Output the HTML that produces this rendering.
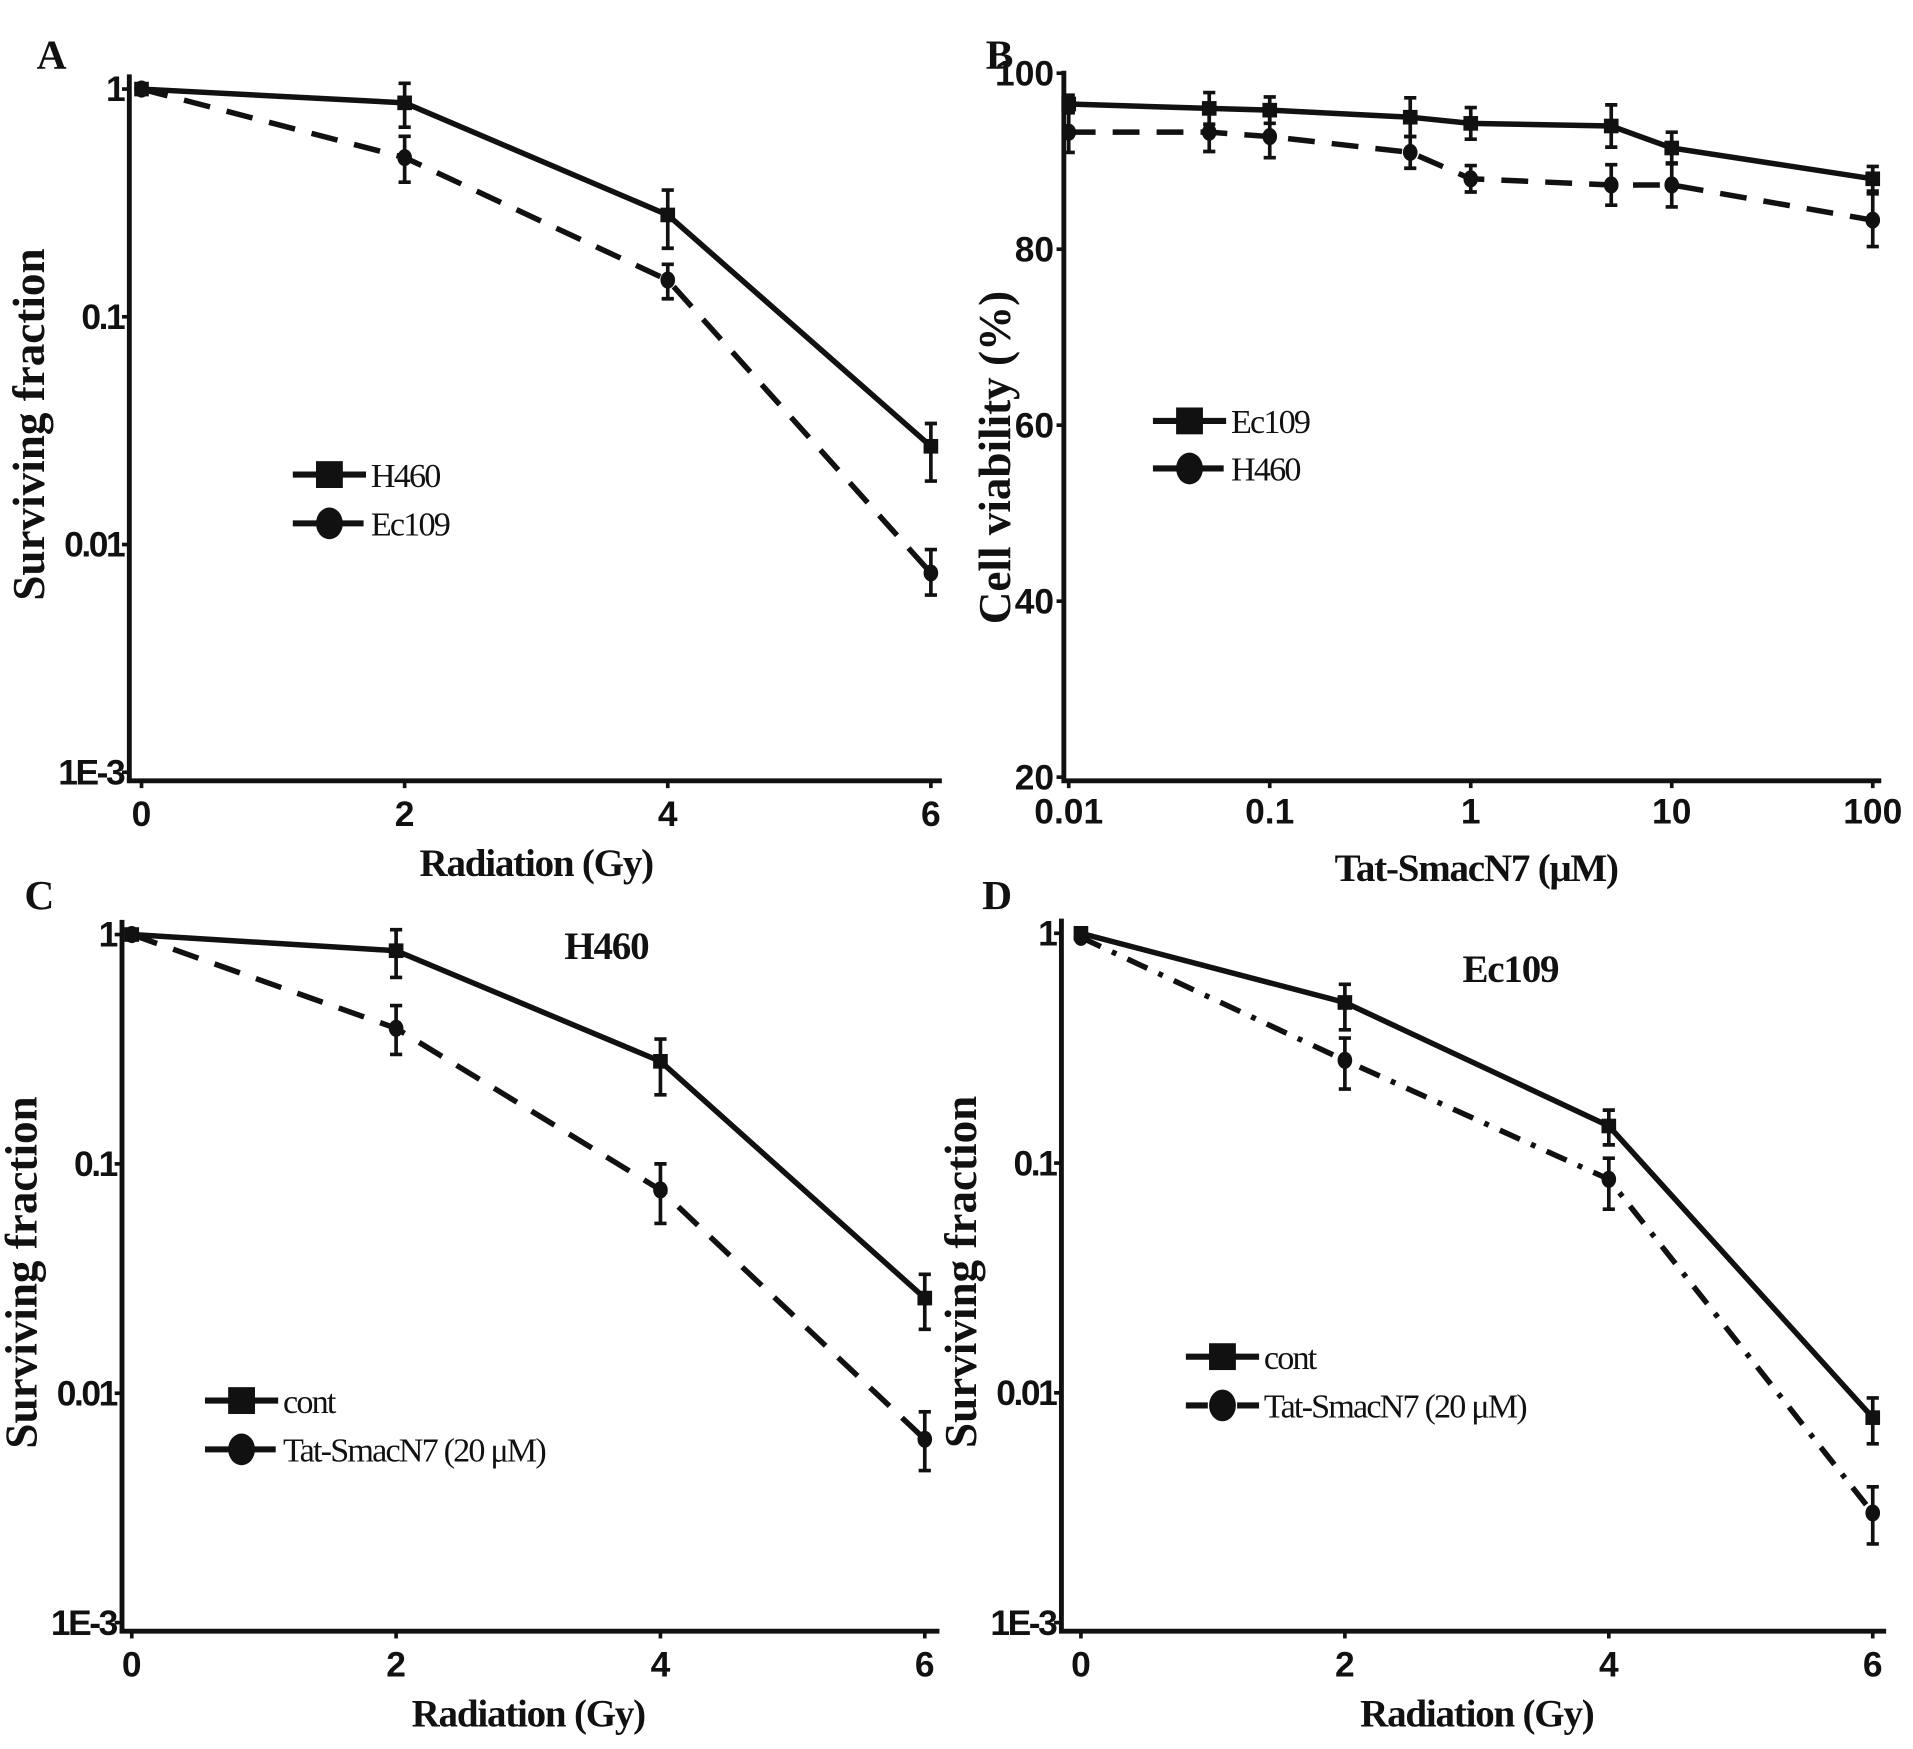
<!DOCTYPE html>
<html><head><meta charset="utf-8"><style>
html,body{margin:0;padding:0;background:#fff;}
svg{display:block;}
.tk{font-family:"Liberation Sans",sans-serif;font-weight:bold;font-size:29px;fill:#111;}
.ti{font-family:"Liberation Serif",serif;font-weight:bold;font-size:32px;fill:#111;letter-spacing:-1px;}
.yt{font-family:"Liberation Serif",serif;font-weight:bold;font-size:37px;fill:#111;}
.lg{font-family:"Liberation Serif",serif;font-size:28px;fill:#111;letter-spacing:-1.5px;}
.pl{font-family:"Liberation Serif",serif;font-weight:bold;font-size:34px;fill:#111;}
</style></head><body>
<svg id="fig" width="1913" height="1749" viewBox="0 0 1568 1433.6" preserveAspectRatio="none" xmlns="http://www.w3.org/2000/svg"></svg>
<script>
// Panel A
const doseX = [0, 2, 4, 6];
const aH460 = [1, 0.87, 0.28, 0.027];
const aH460Lo = [0.95, 0.68, 0.2, 0.019];
const aH460Hi = [1.03, 1.06, 0.36, 0.034];
const aEc109 = [1, 0.5, 0.145, 0.0075];
const aEc109Lo = [0.96, 0.39, 0.12, 0.006];
const aEc109Hi = [1.02, 0.62, 0.17, 0.0095];
// Panel B
const concX = [0.01, 0.05, 0.1, 0.5, 1, 5, 10, 100];
const bEc109 = [96.5, 96, 95.8, 95, 94.3, 94, 91.5, 88];
const bEc109Err = [1, 1.8, 1.5, 2.2, 1.8, 2.4, 1.8, 1.4];
const bH460 = [93.3, 93.3, 92.8, 91, 88, 87.3, 87.3, 83.3];
const bH460Err = [2.3, 2.2, 2.4, 1.8, 1.5, 2.3, 2.5, 3];
// Panel C
const cCont = [1, 0.85, 0.28, 0.026];
const cContLo = [0.95, 0.65, 0.2, 0.019];
const cContHi = [1.03, 1.05, 0.35, 0.033];
const cTat = [1, 0.39, 0.077, 0.0063];
const cTatLo = [0.95, 0.3, 0.055, 0.0046];
const cTatHi = [1.03, 0.49, 0.1, 0.0083];
// Panel D
const dCont = [1, 0.5, 0.145, 0.0078];
const dContLo = [0.96, 0.38, 0.12, 0.006];
const dContHi = [1.03, 0.6, 0.17, 0.0095];
const dTat = [0.96, 0.28, 0.085, 0.003];
const dTatLo = [0.93, 0.21, 0.063, 0.0022];
const dTatHi = [1.0, 0.35, 0.105, 0.0039];
const logTicks = [1, 0.1, 0.01, 0.001];
const logTickLabels = ['1', '0.1', '0.01', '1E-3'];
const doseTickLabels = ['0', '2', '4', '6'];
const bYTicks = [100, 80, 60, 40, 20];
const bXTicks = [0.01, 0.1, 1, 10, 100];
const bXTickLabels = ['0.01', '0.1', '1', '10', '100'];

const NS = 'http://www.w3.org/2000/svg';
const svg = document.getElementById('fig');
function mk(tag, attrs, parent, text) {
  const e = document.createElementNS(NS, tag);
  for (const k in attrs) e.setAttribute(k, attrs[k]);
  if (text !== undefined) e.textContent = text;
  (parent || svg).appendChild(e);
  return e;
}
function linear(d0, d1, r0, r1) { return v => r0 + (v - d0) / (d1 - d0) * (r1 - r0); }
function logS(d0, d1, r0, r1) { return v => r0 + (Math.log10(v) - Math.log10(d0)) / (Math.log10(d1) - Math.log10(d0)) * (r1 - r0); }

function axes(g, ax, ay, x0, x1, y0, y1) {
  const a = mk('line', {x1: ax, y1: y0, x2: ax, y2: ay, stroke: '#111', 'stroke-width': 4}, g);
   
  const b = mk('line', {x1: ax - 2, y1: ay, x2: x1, y2: ay, stroke: '#111', 'stroke-width': 4}, g);
   
}
function series(g, name, xs, ys, lo, hi, sx, sy, dash, marker) {
  const s = mk('g', {}, g);
  
  
  const pts = xs.map((x, i) => sx(x) + ',' + sy(ys[i])).join(' ');
  const l = mk('polyline', {points: pts, fill: 'none', stroke: '#111', 'stroke-width': 4.5, 'stroke-dasharray': dash}, s);
   
  xs.forEach((x, i) => {
    const px = sx(x), py = sy(ys[i]), pl = sy(lo[i]), ph = sy(hi[i]);
    const e = mk('path', {d: `M${px},${pl}V${ph}M${px-5},${pl}H${px+5}M${px-5},${ph}H${px+5}`, stroke: '#111', 'stroke-width': 3, fill: 'none'}, s);
     
    let m;
    if (marker === 'sq') m = mk('rect', {x: px - 6, y: py - 6, width: 12, height: 12, fill: '#111'}, s);
    else m = mk('ellipse', {cx: px, cy: py, rx: 6, ry: 7, fill: '#111'}, s);
     
  });
}
function legend(g, x, y, label, dash, marker) {
  const lg = mk('g', {}, g);
   
  mk('line', {x1: x, y1: y, x2: x + 60, y2: y, stroke: '#111', 'stroke-width': 5, 'stroke-dasharray': dash}, lg);
  if (marker === 'sq') mk('rect', {x: x + 19, y: y - 11, width: 22, height: 22, fill: '#111'}, lg);
  else mk('ellipse', {cx: x + 30, cy: y, rx: 11, ry: 13, fill: '#111'}, lg);
  mk('text', {x: x + 64, y: y + 10, class: 'lg'}, lg, label);
}
function yTitle(g, x, y, t) {
  const e = mk('text', {x: x, y: y, class: 'yt', 'text-anchor': 'middle', transform: `rotate(-90 ${x} ${y})`}, g, t);
   
}
function xTitle(g, x, y, t) {
  const e = mk('text', {x: x, y: y, class: 'ti', 'text-anchor': 'middle'}, g, t);
   
}
function panelLetter(g, x, y, t) {
  const e = mk('text', {x: x, y: y, class: 'pl'}, g, t);
   
}

function survivalPanel(name, letter, o, d1, d2, leg, sub) {
  const g = mk('g', {});
   
  const sx = linear(0, 6, o.x0, o.x6);
  const sy = logS(1, 0.001, o.y1, o.y3);
  axes(g, o.ax, o.ay, o.x0, o.xe, o.y1 - 12, o.y3);
  logTicks.forEach((t, i) => {
    mk('line', {x1: o.ax - 6, y1: sy(t), x2: o.ax, y2: sy(t), stroke: '#111', 'stroke-width': 3}, g);
    const e = mk('text', {x: o.ax - 5, y: sy(t) + 10, class: 'tk', 'text-anchor': 'end', 'letter-spacing': '-2'}, g, logTickLabels[i]);
     
  });
  doseX.forEach((t, i) => {
    mk('line', {x1: sx(t), y1: o.ay, x2: sx(t), y2: o.ay + 6, stroke: '#111', 'stroke-width': 3}, g);
    const e = mk('text', {x: sx(t), y: o.ay + 37, class: 'tk', 'text-anchor': 'middle'}, g, doseTickLabels[i]);
     
  });
  series(g, d1.name, doseX, d1.v, d1.lo, d1.hi, sx, sy, d1.dash, d1.m);
  series(g, d2.name, doseX, d2.v, d2.lo, d2.hi, sx, sy, d2.dash, d2.m);
  legend(g, leg.x, leg.y, d1.label, d1.dash, d1.m);
  legend(g, leg.x, leg.y + 40, d2.label, d2.dash, d2.m);
  yTitle(g, o.ax - 70, (o.y1 + o.y3) / 2 - 5, 'Surviving fraction');
  xTitle(g, (o.x0 + o.x6) / 2, o.ay + 78, 'Radiation (Gy)');
  panelLetter(g, letter.x, letter.y, letter.t);
  if (sub) {
    const e = mk('text', {x: sub.x, y: sub.y, class: 'ti', 'text-anchor': 'middle', 'font-size': '30'}, g, sub.t);
     
  }
}

survivalPanel('panel-a', {x: 30, y: 56, t: 'A'},
  {ax: 106, ay: 640, x0: 116, x6: 763, xe: 772, y1: 73, y3: 633},
  {name: 'series-h460', label: 'H460', v: aH460, lo: aH460Lo, hi: aH460Hi, dash: 'none', m: 'sq'},
  {name: 'series-ec109', label: 'Ec109', v: aEc109, lo: aEc109Lo, hi: aEc109Hi, dash: '22,14', m: 'ci'},
  {x: 240, y: 389});
survivalPanel('panel-c', {x: 20, y: 745, t: 'C'},
  {ax: 100, ay: 1337, x0: 108, x6: 758, xe: 770, y1: 766, y3: 1330},
  {name: 'series-cont', label: 'cont', v: cCont, lo: cContLo, hi: cContHi, dash: 'none', m: 'sq'},
  {name: 'series-tat-smacn7', label: 'Tat-SmacN7 (20 μM)', v: cTat, lo: cTatLo, hi: cTatHi, dash: '22,14', m: 'ci'},
  {x: 168, y: 1148}, {x: 497, y: 786, t: 'H460'});
survivalPanel('panel-d', {x: 805, y: 745, t: 'D'},
  {ax: 870, ay: 1337, x0: 886, x6: 1535, xe: 1546, y1: 765, y3: 1330},
  {name: 'series-cont', label: 'cont', v: dCont, lo: dContLo, hi: dContHi, dash: 'none', m: 'sq'},
  {name: 'series-tat-smacn7', label: 'Tat-SmacN7 (20 μM)', v: dTat, lo: dTatLo, hi: dTatHi, dash: '18,10,4,10', m: 'ci'},
  {x: 972, y: 1112}, {x: 1238, y: 805, t: 'Ec109'});

// Panel B
(function () {
  const g = mk('g', {});
   
  const sx = logS(0.01, 100, 876, 1535);
  const sy = linear(20, 100, 637, 60);
  axes(g, 872, 640, 876, 1542, 58, 637);
  bYTicks.forEach(t => {
    mk('line', {x1: 866, y1: sy(t), x2: 872, y2: sy(t), stroke: '#111', 'stroke-width': 3}, g);
    const e = mk('text', {x: 864, y: sy(t) + 10, class: 'tk', 'text-anchor': 'end'}, g, String(t));
     
  });
  bXTicks.forEach((t, i) => {
    mk('line', {x1: sx(t), y1: 640, x2: sx(t), y2: 646, stroke: '#111', 'stroke-width': 3}, g);
    const e = mk('text', {x: sx(t), y: 675, class: 'tk', 'text-anchor': 'middle'}, g, bXTickLabels[i]);
     
  });
  const lo1 = bEc109.map((v, i) => v - bEc109Err[i]), hi1 = bEc109.map((v, i) => v + bEc109Err[i]);
  const lo2 = bH460.map((v, i) => v - bH460Err[i]), hi2 = bH460.map((v, i) => v + bH460Err[i]);
  series(g, 'series-ec109', concX, bEc109, lo1, hi1, sx, sy, 'none', 'sq');
  series(g, 'series-h460', concX, bH460, lo2, hi2, sx, sy, '22,14', 'ci');
  legend(g, 945, 345, 'Ec109', 'none', 'sq');
  legend(g, 945, 384, 'H460', '22,14', 'ci');
  yTitle(g, 828, 375, 'Cell viability (%)');
  xTitle(g, 1210, 722, 'Tat-SmacN7 (μM)');
  panelLetter(g, 808, 56, 'B');
})();
</script>
</body></html>
